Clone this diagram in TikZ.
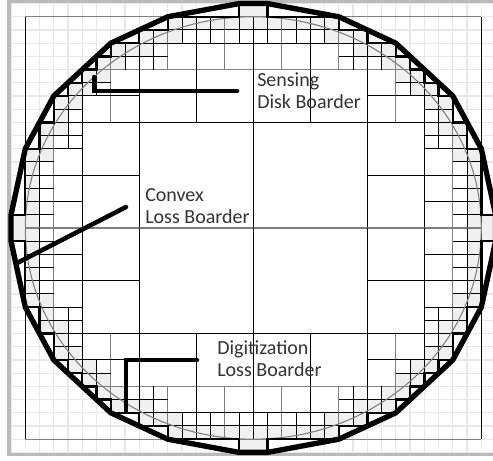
\documentclass[tikz,border=0pt]{standalone}
\usepackage{fontspec}
\setmainfont{Carlito}
\definecolor{cellshade}{HTML}{F0F0F0}
\definecolor{bggrid}{HTML}{E8E8E8}
\definecolor{framegray}{HTML}{B8BCC0}
\definecolor{thingray}{HTML}{7F7F7F}
\definecolor{labeltext}{HTML}{333333}
\tikzset{
  blackline/.style={black,line width=0.75pt},
  grayline/.style={thingray,line width=0.8pt},
  stairline/.style={black,line width=1.8pt,line join=miter},
  polyline/.style={black,line width=4pt,line join=round},
  leader/.style={black,line width=3.4pt,line cap=round,line join=miter},
  labeltxt/.style={anchor=west,align=left,inner sep=0pt,text=labeltext,font=\fontsize{15}{16.5}\selectfont},
  px/.style={shift={(-17.775,17.27)},x=0.75pt,y=-0.75pt}
}
\begin{document}
\begin{tikzpicture}[x=10.6875pt,y=9.9pt]
\useasboundingbox (-17.775,-17.65) rectangle (16.82,17.27);
% frame and background grid
\begin{scope}[px]
  \fill[white] (0,0) rectangle (493,461);
  \fill[framegray] (7,0) rectangle (493,4);
  \fill[framegray] (7,0) rectangle (11,456);
  \fill[framegray] (7,452) rectangle (493,456);
\end{scope}
\begin{scope}
  \clip (-17,-17) rectangle (16.82,17);
  \foreach \gg in {-17,...,17}{
    \draw[bggrid,line width=0.9pt] (\gg,-17) -- (\gg,17);
    \draw[bggrid,line width=0.9pt] (-17,\gg) -- (17,\gg);
  }
\end{scope}
% interior of the convex polygon
\fill[white] (-17,1) -- (-16,6) -- (-14,10) -- (-10,14) -- (-6,16) -- (-1,17) -- (1,17) -- (6,16) -- (10,14) -- (14,10) -- (16,6) -- (17,1) -- (17,-1) -- (16,-6) -- (14,-10) -- (10,-14) -- (6,-16) -- (1,-17) -- (-1,-17) -- (-6,-16) -- (-10,-14) -- (-14,-10) -- (-16,-6) -- (-17,-1) -- cycle;
% quadtree cells, four mirrored quadrants
\foreach \sx/\sy in {1/1,-1/1,1/-1,-1/-1}{
\begin{scope}[xscale=\sx,yscale=\sy]
  \foreach \cu/\cv in {0/15,1/15,2/15,3/15,4/15,5/15,5/14,6/14,7/14,7/13,8/13,9/13,9/12,10/12,10/11,11/11,11/10,12/10,12/9,13/9,13/8,13/7,14/7,14/6,14/5,15/5,15/4,15/3,15/2,15/1,15/0,16/0,0/16}
    \fill[cellshade] (\cu,\cv) rectangle ++(1,1);
  % gray lines
  \draw[grayline] (0,0) -- (16,0) (0,16) -- (16,16) (0,12) -- (12,12)
    (14,0) -- (14,10) (6,12) -- (6,16) (10,8) -- (10,14) (2,12) -- (2,16);
  % black lines
  \draw[blackline] (0,0) -- (0,16) (16,0) -- (16,16) (8,0) -- (8,15) (0,8) -- (14,8)
    (12,0) -- (12,12) (4,8) -- (4,16) (8,4) -- (16,4) (0,14) -- (10,14)
    (12,6) -- (16,6) (8,10) -- (14,10) (12,2) -- (16,2) (15,0) -- (15,8) (0,15) -- (8,15)
    (13,6) -- (13,11) (6,13) -- (11,13) (10,11) -- (13,11) (11,10) -- (11,13)
    (12,9) -- (14,9) (9,12) -- (9,14) (12,7) -- (15,7) (7,12) -- (7,15)
    (1,14) -- (1,16) (3,14) -- (3,16) (5,14) -- (5,16)
    (14,1) -- (16,1) (14,3) -- (16,3) (14,5) -- (16,5);
\end{scope}
}
% sensing disk
\draw[thingray,line width=0.8pt] (0,0) ellipse [x radius=16,y radius=16];
% digitization staircase
\foreach \sx/\sy in {1/1,-1/1,1/-1,-1/-1}{
\begin{scope}[xscale=\sx,yscale=\sy]
  \draw[stairline] (1,17) -- (1,16) -- (6,16) -- (6,15) -- (8,15) -- (8,14) -- (10,14) -- (10,13) -- (11,13) -- (11,12) -- (12,12) -- (12,11) -- (13,11) -- (13,10) -- (14,10) -- (14,8) -- (15,8) -- (15,6) -- (16,6) -- (16,1) -- (17,1);
\end{scope}
}
% convex polygon
\draw[polyline] (-17,1) -- (-16,6) -- (-14,10) -- (-10,14) -- (-6,16) -- (-1,17) -- (1,17) -- (6,16) -- (10,14) -- (14,10) -- (16,6) -- (17,1) -- (17,-1) -- (16,-6) -- (14,-10) -- (10,-14) -- (6,-16) -- (1,-17) -- (-1,-17) -- (-6,-16) -- (-10,-14) -- (-14,-10) -- (-16,-6) -- (-17,-1) -- cycle;
% leaders and labels
\begin{scope}[px]
  \draw[leader] (237,91) -- (94,91) -- (94,77);
  \draw[leader] (126,207) -- (17,263);
  \draw[leader] (197,360) -- (126,360) -- (126,411);
  \node[labeltxt] (sensing) at (257,91) {Sensing\\Disk Boarder};
  \node[labeltxt] (convex) at (145,206) {Convex\\Loss Boarder};
  \node[labeltxt] (digit) at (217,359) {Digitization\\Loss Boarder};
\end{scope}
\end{tikzpicture}
\end{document}
